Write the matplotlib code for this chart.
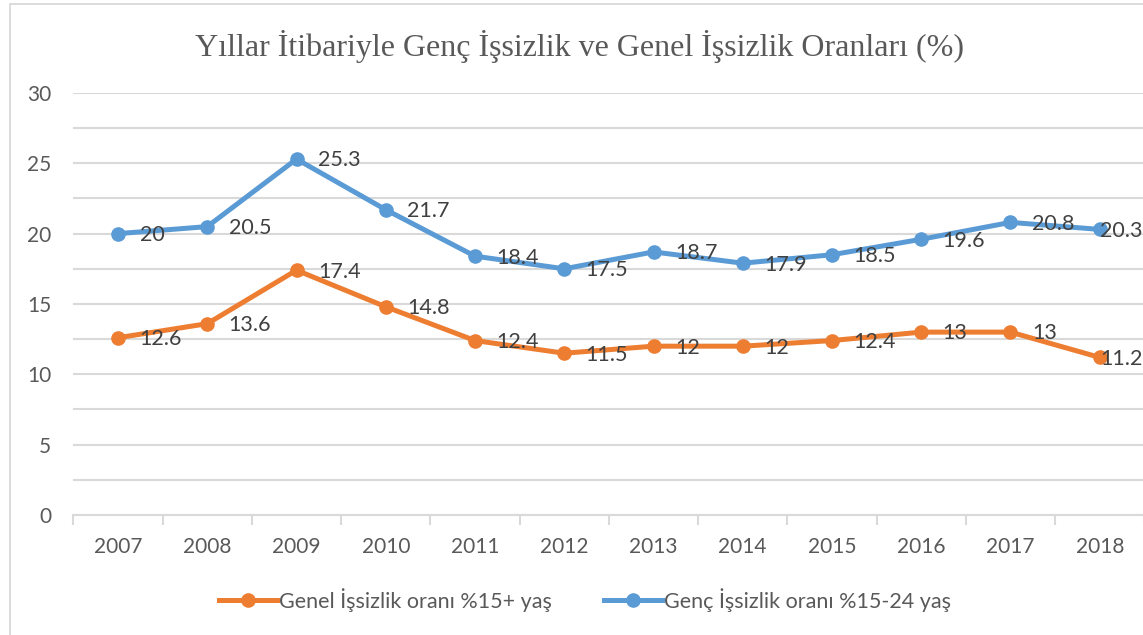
import matplotlib.pyplot as plt
from matplotlib.patches import Rectangle

years = ["2007", "2008", "2009", "2010", "2011", "2012",
         "2013", "2014", "2015", "2016", "2017", "2018"]
genel = [12.6, 13.6, 17.4, 14.8, 12.4, 11.5, 12, 12, 12.4, 13, 13, 11.2]
genc = [20, 20.5, 25.3, 21.7, 18.4, 17.5, 18.7, 17.9, 18.5, 19.6, 20.8, 20.3]
genel_lbl = "Genel İşsizlik oranı %15+ yaş"
genc_lbl = "Genç İşsizlik oranı %15-24 yaş"
title = "Yıllar İtibariyle Genç İşsizlik ve Genel İşsizlik Oranları (%)"

O = "#ed7d31"
B = "#5b9bd5"
g = "#d9d9d9"
txt = "#595959"

plt.rcParams["font.family"] = ["Lato", "DejaVu Sans"]

fig = plt.figure(figsize=(11.43, 6.35), dpi=100)
ax = fig.add_axes([0.0642, 0.189, 0.937, 0.6646])

# chart frame (cut by the image edges on right and bottom)
fig.patches.append(Rectangle((0.00875, -0.1), 1.2, 1.0937, transform=fig.transFigure,
                             fill=False, edgecolor=g, linewidth=1.3, zorder=0))

x = list(range(len(years)))
ax.plot(x, genel, color=O, lw=3.6, marker="o", ms=9.5, label=genel_lbl, zorder=3)
ax.plot(x, genc, color=B, lw=3.6, marker="o", ms=9.5, label=genc_lbl, zorder=3)

last = len(years) - 1
for ys in (genel, genc):
    for xi, yi in zip(x, ys):
        dx = 15.5 if xi < last else 0.5   # last label pushed back inside the frame
        ax.annotate(f"{yi:g}", (xi, yi), xytext=(dx, -1), textcoords="offset points",
                    ha="left", va="center", fontsize=15.5, color="#404040", zorder=4)

ax.set_xlim(-0.5, len(years) - 0.5)
ax.set_ylim(0, 30)
ax.set_yticks(range(0, 31, 5))
ax.set_yticks([2.5 + 5 * i for i in range(6)], minor=True)
ax.grid(axis="y", which="both", color=g, lw=1.5, zorder=0)
ax.set_xticks(x)
ax.set_xticklabels(years)
ax.set_xticks([i - 0.5 for i in range(len(years) + 1)], minor=True)

ax.tick_params(axis="y", which="both", length=0, pad=16, labelsize=15, labelcolor=txt)
ax.tick_params(axis="x", which="major", length=0, pad=16, labelsize=15, labelcolor=txt)
ax.tick_params(axis="x", which="minor", length=7, width=1.5, color=g)

for s in ["top", "right", "left"]:
    ax.spines[s].set_visible(False)
ax.spines["bottom"].set_color(g)
ax.spines["bottom"].set_linewidth(1.5)

fig.text(0.507, 0.926, title, ha="center", va="center", fontsize=23,
         family=["Liberation Serif", "DejaVu Serif"], color=txt)

fig.legend(loc="center", bbox_to_anchor=(0.512, 0.055), ncol=2, frameon=False,
           fontsize=15.5, labelcolor=txt, handlelength=2.7, handletextpad=0.1,
           columnspacing=2.4)

plt.savefig("out.png", dpi=100)
